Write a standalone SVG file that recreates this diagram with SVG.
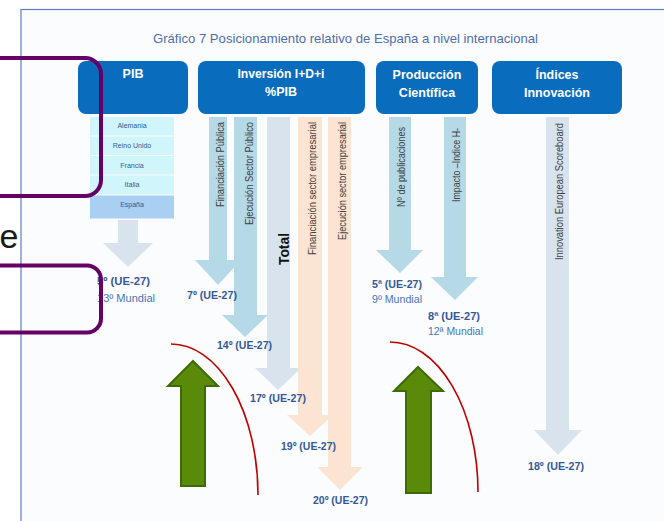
<svg xmlns="http://www.w3.org/2000/svg" width="664" height="521" viewBox="0 0 664 521">
<style>
.hdr{fill:#0a6cbd}
.ht{font-family:"Liberation Sans",Arial,sans-serif;font-weight:bold;font-size:12.5px;fill:#ffffff;text-anchor:middle}
.blue{fill:#b5d9e6}
.gray{fill:#d9e3ee}
.peach{fill:#fce4d2}
.rt{font-family:"Liberation Sans",Arial,sans-serif;font-size:10.5px;fill:#404040}
.rk{font-family:"Liberation Sans",Arial,sans-serif;font-weight:bold;font-size:11px;fill:#34589a}
.mu{font-family:"Liberation Sans",Arial,sans-serif;font-size:11px;fill:#4a74b8}
.tb{font-family:"Liberation Sans",Arial,sans-serif;font-size:7px;fill:#2e5c9e;text-anchor:middle}
.row{fill:#d0f5fa}
.green{fill:#5a8a0a;stroke:#3e6b06;stroke-width:2}
.arc{fill:none;stroke:#c00000;stroke-width:1.6}
.hl{fill:none;stroke:#660066;stroke-width:4}
</style>
<rect x="21" y="9.5" width="660" height="520" fill="#fbfcfd" stroke="#5a7fc2" stroke-width="1.2"/>
<text x="153" y="43" font-family="Liberation Sans,Arial,sans-serif" font-size="13.5" fill="#4f6eaa" textLength="385" lengthAdjust="spacingAndGlyphs">Gráfico 7 Posicionamiento relativo de España a nivel internacional</text>

<g id="pib">
<rect class="hdr" x="78" y="61" width="110" height="53" rx="8"/>
<text class="ht" x="133" y="78">PIB</text>
<rect class="row" x="90" y="117" width="84" height="18.5"/>
<rect class="row" x="90" y="136.5" width="84" height="18.5"/>
<rect class="row" x="90" y="156" width="84" height="18.5"/>
<rect class="row" x="90" y="175.5" width="84" height="19"/>
<rect x="90" y="195.5" width="84" height="23" fill="#a9cff2"/>
<text class="tb" x="132" y="128">Alemania</text>
<text class="tb" x="132" y="148">Reino Unido</text>
<text class="tb" x="132" y="168">Francia</text>
<text class="tb" x="132" y="187">Italia</text>
<text class="tb" x="132" y="207">España</text>
<path class="gray" d="M118,220 H138 V243 H153 L128,267 L103,243 H118 Z"/>
<text class="rk" x="97" y="285" textLength="53" lengthAdjust="spacingAndGlyphs">5º (UE-27)</text>
<text class="mu" x="97" y="302" textLength="58" lengthAdjust="spacingAndGlyphs">13º Mundial</text>
</g>

<g id="inversion">
<rect class="hdr" x="198" y="61" width="167" height="53" rx="8"/>
<text class="ht" x="281" y="78" textLength="87" lengthAdjust="spacingAndGlyphs">Inversión I+D+i</text>
<text class="ht" x="281" y="96">%PIB</text>
</g>

<g id="produccion">
<rect class="hdr" x="376" y="61" width="102" height="53" rx="8"/>
<text class="ht" x="427" y="79">Producción</text>
<text class="ht" x="427" y="97">Científica</text>
</g>

<g id="indices">
<rect class="hdr" x="492" y="61" width="130" height="53" rx="8"/>
<text class="ht" x="557" y="79">Índices</text>
<text class="ht" x="557" y="97">Innovación</text>
</g>

<g id="connectors">
<path class="blue" d="M209,117 H227 V260 H241 L218,285 L195,260 H209 Z"/>
<path class="blue" d="M234,117 H257 V315 H268 L245,337 L222,315 H234 Z"/>
<path class="gray" d="M267,117 H290 V368 H301 L278,390 L255,368 H267 Z"/>
<path class="peach" d="M298,117 H322 V415 H333 L310,436 L287,415 H298 Z"/>
<path class="peach" d="M328,117 H351 V467 H363 L340,490 L317,467 H328 Z"/>
<path class="blue" d="M389,117 H411 V250 H423 L400,273 L376,250 H389 Z"/>
<path class="blue" d="M444,117 H466 V277 H478 L455,300 L431,277 H444 Z"/>
<path class="gray" d="M546,117 H569 V430 H582 L558,455 L534,430 H546 Z"/>
</g>

<g id="col-labels">
<text class="rt" transform="translate(223.5,207) rotate(-90)" textLength="85" lengthAdjust="spacingAndGlyphs">Financiación Pública</text>
<text class="rt" transform="translate(252.5,225) rotate(-90)" textLength="103" lengthAdjust="spacingAndGlyphs">Ejecución Sector Público</text>
<text transform="translate(289,265) rotate(-90)" font-family="Liberation Sans,Arial,sans-serif" font-weight="bold" font-size="14" fill="#111111" textLength="32" lengthAdjust="spacingAndGlyphs">Total</text>
<text class="rt" transform="translate(316,255) rotate(-90)" textLength="133" lengthAdjust="spacingAndGlyphs">Financiación sector empresarial</text>
<text class="rt" transform="translate(345.5,240) rotate(-90)" textLength="118" lengthAdjust="spacingAndGlyphs">Ejecución sector empresarial</text>
<text class="rt" transform="translate(404.5,207) rotate(-90)" textLength="80" lengthAdjust="spacingAndGlyphs">Nº de publicaciones</text>
<text class="rt" transform="translate(459.5,202) rotate(-90)" textLength="74" lengthAdjust="spacingAndGlyphs">Impacto –Indice H-</text>
<text class="rt" transform="translate(562.5,260) rotate(-90)" textLength="137" lengthAdjust="spacingAndGlyphs">Innovation European Scoreboard</text>
</g>

<g id="ranks">
<text class="rk" x="187" y="299" textLength="50" lengthAdjust="spacingAndGlyphs">7º (UE-27)</text>
<text class="rk" x="217" y="349" textLength="55" lengthAdjust="spacingAndGlyphs">14º (UE-27)</text>
<text class="rk" x="250" y="402" textLength="56" lengthAdjust="spacingAndGlyphs">17º (UE-27)</text>
<text class="rk" x="281" y="450" textLength="55" lengthAdjust="spacingAndGlyphs">19º (UE-27)</text>
<text class="rk" x="313" y="504" textLength="55" lengthAdjust="spacingAndGlyphs">20º (UE-27)</text>
<text class="rk" x="372" y="288" textLength="50" lengthAdjust="spacingAndGlyphs">5ª (UE-27)</text>
<text class="mu" x="372" y="303" textLength="50" lengthAdjust="spacingAndGlyphs">9º Mundial</text>
<text class="rk" x="428" y="320" textLength="52" lengthAdjust="spacingAndGlyphs">8ª  (UE-27)</text>
<text class="mu" x="428" y="335" textLength="55" lengthAdjust="spacingAndGlyphs">12ª Mundial</text>
<text class="rk" x="528" y="470" textLength="56" lengthAdjust="spacingAndGlyphs">18º (UE-27)</text>
</g>

<path class="arc" d="M171,344 A87,151 0 0 1 258,495"/>
<path class="arc" d="M390,342 A88,150 0 0 1 478,492"/>
<path class="green" d="M193,361 L218,386 H205 V486 H181 V386 H168 Z"/>
<path class="green" d="M418,367 L443,391 H431 V493 H406 V391 H394 Z"/>

<text x="18.5" y="247.5" font-family="Liberation Sans,Arial,sans-serif" font-size="34" fill="#1a1a1a" text-anchor="end">e</text>
<rect class="hl" x="-20" y="58" width="121" height="138" rx="16"/>
<rect class="hl" x="-20" y="265.5" width="121" height="67" rx="14"/>
</svg>
